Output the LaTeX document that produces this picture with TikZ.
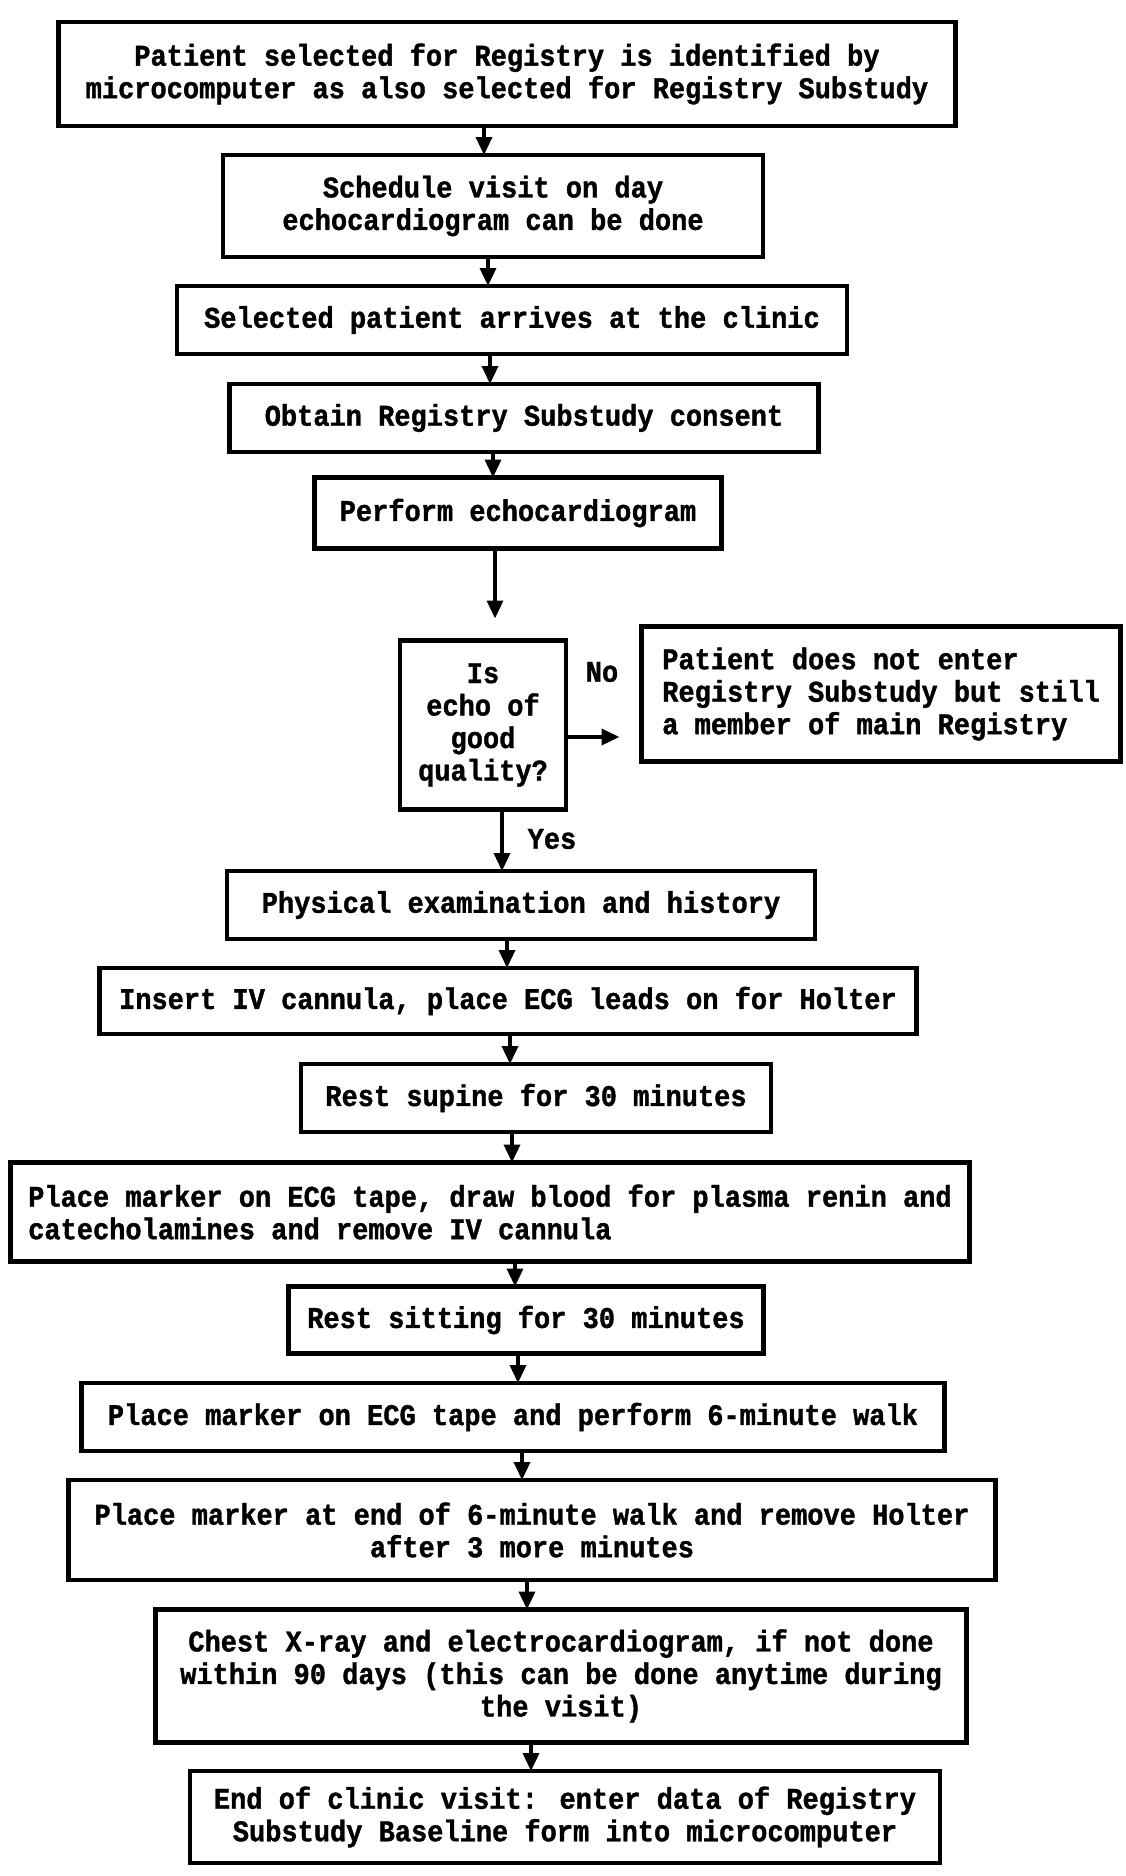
\documentclass[tikz,border=0pt]{standalone}
\usepackage{fontspec}
\newfontfamily\typefont{Liberation Mono}[FakeStretch=0.9, FakeBold=1.2]
\usetikzlibrary{arrows.meta}

\begin{document}
\begin{tikzpicture}[x=1pt, y=-1pt, >={Triangle[length=18pt, width=16pt]},
    font=\typefont\bfseries\fontsize{30}{32.5}\selectfont,
    stepbox/.style={draw, line width=4.5pt, align=center, inner sep=0pt, outer sep=0pt},
    flow/.style={->, line width=3.5pt},
    lbl/.style={inner sep=0pt}]

    % Page
    \fill[white] (0,0) rectangle (1125,1876);

    % Steps before the echo check
    \node[stepbox, minimum width=897pt, minimum height=104pt] (reg) at (507,74)
        {Patient selected for Registry is identified by\\microcomputer as also selected for Registry Substudy};
    \node[stepbox, minimum width=540pt, minimum height=102pt] (sched) at (493,206)
        {Schedule visit on day\\echocardiogram can be done};
    \node[stepbox, minimum width=670pt, minimum height=68pt] (arrive) at (512,320)
        {Selected patient arrives at the clinic};
    \node[stepbox, minimum width=589pt, minimum height=68pt] (consent) at (524,418)
        {Obtain Registry Substudy consent};
    \node[stepbox, minimum width=407pt, minimum height=71pt] (perf) at (518,513)
        {Perform echocardiogram};

    % Echo check
    \node[stepbox, minimum width=166pt, minimum height=169pt] (dec) at (483,725)
        {Is\\echo of\\good\\quality?};
    \node[stepbox, align=left, minimum width=479pt, minimum height=135pt] (nobox) at (881,694)
        {Patient does not enter\\Registry Substudy but still\\a member of main Registry};
    \node[lbl] (nolbl) at (602,672) {No};
    \node[lbl] (yeslbl) at (552,839) {Yes};

    % Steps of the visit
    \node[stepbox, minimum width=588pt, minimum height=68pt] (phys) at (521,905)
        {Physical examination and history};
    \node[stepbox, minimum width=817pt, minimum height=66pt] (iv) at (508,1001)
        {Insert IV cannula, place ECG leads on for Holter};
    \node[stepbox, minimum width=470pt, minimum height=68pt] (supine) at (536,1098)
        {Rest supine for 30 minutes};
    \node[stepbox, align=left, minimum width=959pt, minimum height=99pt] (blood) at (490,1212)
        {Place marker on ECG tape, draw blood for plasma renin and\\catecholamines and remove IV cannula};
    \node[stepbox, minimum width=475pt, minimum height=67pt] (sitting) at (526,1320)
        {Rest sitting for 30 minutes};
    \node[stepbox, minimum width=863pt, minimum height=68pt] (walk) at (513,1417)
        {Place marker on ECG tape and perform 6-minute walk};
    \node[stepbox, minimum width=927pt, minimum height=100pt] (holter) at (532,1530)
        {Place marker at end of 6-minute walk and remove Holter\\after 3 more minutes};
    \node[stepbox, minimum width=811pt, minimum height=133pt] (xray) at (561,1676)
        {Chest X-ray and electrocardiogram, if not done\\within 90 days (this can be done anytime during\\the visit)};
    \node[stepbox, minimum width=750pt, minimum height=92pt] (endv) at (565,1817)
        {End of clinic visit: enter data of Registry\\Substudy Baseline form into microcomputer};

    % Arrows
    \draw[flow] (reg.south -| 484,0) -- (sched.north -| 484,0);
    \draw[flow] (sched.south -| 488,0) -- (arrive.north -| 488,0);
    \draw[flow] (arrive.south -| 490,0) -- (consent.north -| 490,0);
    \draw[flow] (consent.south -| 493,0) -- (perf.north -| 493,0);
    \draw[flow, shorten >=22pt] (perf.south -| 495,0) -- (dec.north -| 495,0);
    \draw[flow, shorten >=22pt] (dec.east |- 0,737) -- (nobox.west |- 0,737);
    \draw[flow] (dec.south -| 502,0) -- (phys.north -| 502,0);
    \draw[flow] (phys.south -| 507,0) -- (iv.north -| 507,0);
    \draw[flow] (iv.south -| 510,0) -- (supine.north -| 510,0);
    \draw[flow] (supine.south -| 512,0) -- (blood.north -| 512,0);
    \draw[flow] (blood.south -| 515,0) -- (sitting.north -| 515,0);
    \draw[flow] (sitting.south -| 518,0) -- (walk.north -| 518,0);
    \draw[flow] (walk.south -| 522,0) -- (holter.north -| 522,0);
    \draw[flow] (holter.south -| 527,0) -- (xray.north -| 527,0);
    \draw[flow] (xray.south -| 531,0) -- (endv.north -| 531,0);

\end{tikzpicture}
\end{document}
